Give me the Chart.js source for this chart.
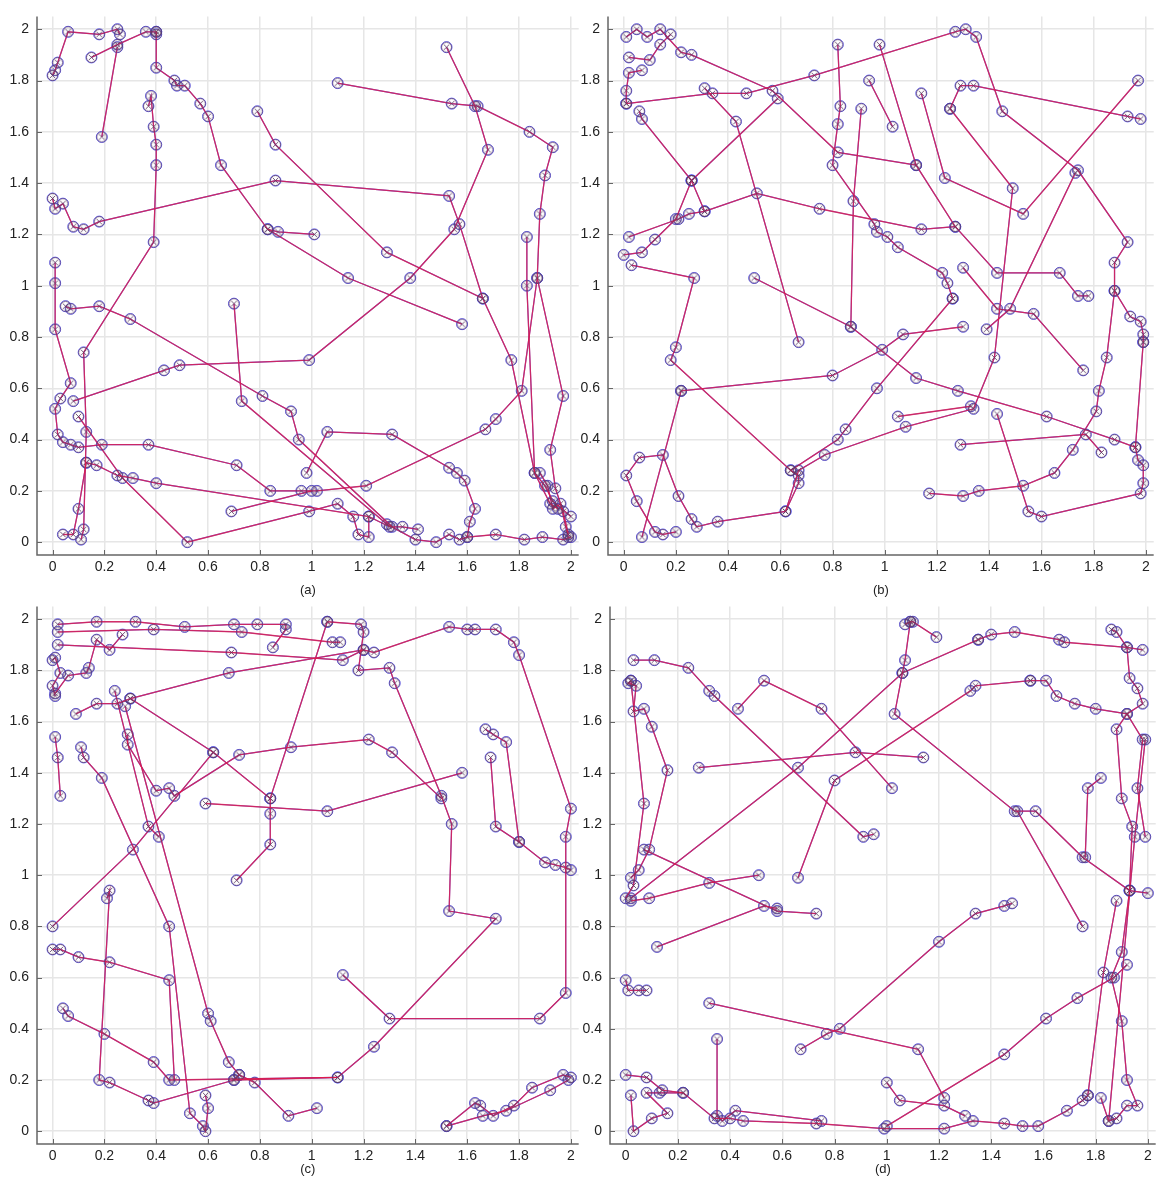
<!DOCTYPE html>
<html>
<head>
<meta charset="utf-8">
<title>Track estimates</title>
<script src="https://cdn.jsdelivr.net/npm/chart.js@4.4.0/dist/chart.umd.min.js"></script>
<style>
  html, body { margin: 0; padding: 0; background: #fff; }
  body { position: relative; width: 1169px; height: 1191px; overflow: hidden; }
  canvas { position: absolute; }
  #panelA { left: 0;     top: 0;   }
  #panelB { left: 571px; top: 0;   }
  #panelC { left: 0;     top: 590px; }
  #panelD { left: 573px; top: 590px; }
</style>
</head>
<body>
<canvas id="panelA" width="586" height="602"></canvas>
<canvas id="panelB" width="590" height="602"></canvas>
<canvas id="panelC" width="586" height="601"></canvas>
<canvas id="panelD" width="590" height="601"></canvas>

<script>
// tracks.js – true paths (blue) and estimated paths (red) on the 2x2 field

const tickValues = [0, 0.2, 0.4, 0.6, 0.8, 1, 1.2, 1.4, 1.6, 1.8, 2];
const panelLabels = ['(a)', '(b)', '(c)', '(d)'];

/* ─────────────────────────────────────────────
   Track data, one list of [x, y] per target
───────────────────────────────────────────── */

const tracksA = [
  [[0.00,1.82],[0.01,1.84],[0.02,1.87],[0.06,1.99],[0.18,1.98],[0.25,2.00],[0.26,1.98]],
  [[0.15,1.89],[0.25,1.94],[0.36,1.99],[0.40,1.99],[0.40,1.98]],
  [[0.19,1.58],[0.25,1.93]],
  [[0.40,1.99],[0.40,1.85],[0.47,1.80],[0.48,1.78],[0.51,1.78],[0.57,1.71],[0.60,1.66],[0.65,1.47],[0.83,1.22],[0.87,1.21],[1.01,1.20]],
  [[0.37,1.70],[0.38,1.74],[0.39,1.62],[0.40,1.55],[0.40,1.47],[0.39,1.17],[0.12,0.74],[0.13,0.43],[0.12,0.05],[0.11,0.01]],
  [[0.00,1.34],[0.01,1.30],[0.04,1.32],[0.08,1.23],[0.12,1.22],[0.18,1.25],[0.86,1.41],[1.53,1.35],[1.57,1.24],[1.66,0.95]],
  [[0.79,1.68],[0.86,1.55],[1.29,1.13],[1.66,0.95],[1.77,0.71],[1.86,0.27],[1.92,0.15],[1.95,0.13]],
  [[0.83,1.22],[1.14,1.03],[1.58,0.85]],
  [[1.52,1.93],[1.63,1.70],[1.68,1.53],[1.55,1.22],[1.38,1.03],[0.99,0.71],[0.49,0.69],[0.43,0.67],[0.08,0.55]],
  [[1.10,1.79],[1.54,1.71],[1.64,1.70],[1.84,1.60],[1.93,1.54],[1.90,1.43],[1.88,1.28],[1.87,1.03],[1.97,0.57],[1.92,0.36],[1.94,0.21],[1.97,0.12],[1.99,0.03]],
  [[1.83,1.19],[1.83,1.00],[1.86,0.27],[1.90,0.22],[1.93,0.16],[2.00,0.10]],
  [[0.01,1.09],[0.01,1.01],[0.01,0.83],[0.07,0.62],[0.03,0.56],[0.01,0.52],[0.02,0.42],[0.04,0.39],[0.07,0.38],[0.10,0.37],[0.19,0.38],[0.37,0.38],[0.71,0.30],[0.84,0.20],[0.96,0.20],[1.02,0.20],[1.21,0.22],[1.67,0.44],[1.71,0.48],[1.81,0.59],[1.87,1.03]],
  [[0.05,0.92],[0.07,0.91],[0.18,0.92],[0.30,0.87],[0.81,0.57],[0.92,0.51],[0.95,0.40],[1.31,0.06],[1.35,0.06],[1.41,0.05]],
  [[0.70,0.93],[0.73,0.55],[1.29,0.07],[1.40,0.01],[1.48,0.00],[1.53,0.03],[1.57,0.01],[1.60,0.02],[1.71,0.03],[1.82,0.01],[1.89,0.02],[1.97,0.01],[2.00,0.02]],
  [[0.13,0.31],[0.17,0.30],[0.25,0.26],[0.31,0.25],[0.40,0.23],[1.22,0.10],[1.30,0.06]],
  [[0.10,0.49],[0.27,0.25],[0.52,0.00],[0.99,0.12],[1.10,0.15],[1.16,0.10],[1.18,0.03],[1.22,0.02],[1.22,0.10]],
  [[0.69,0.12],[1.00,0.20]],
  [[0.98,0.27],[1.06,0.43],[1.31,0.42],[1.53,0.29],[1.56,0.27],[1.59,0.24],[1.63,0.13],[1.61,0.08],[1.60,0.02]],
  [[1.88,0.27],[1.91,0.22],[1.93,0.13],[1.96,0.15],[1.98,0.06],[1.99,0.02]],
  [[0.04,0.03],[0.08,0.03],[0.10,0.13],[0.13,0.31]]
];

const tracksB = [
  [[0.01,1.71],[0.34,1.75],[0.47,1.75],[0.73,1.82],[1.27,1.99],[1.31,2.00],[1.35,1.97],[1.45,1.68],[1.74,1.45],[1.93,1.17],[1.88,1.09],[1.88,0.98],[1.94,0.88],[1.98,0.86],[1.99,0.81],[1.99,0.78]],
  [[1.25,1.69],[1.29,1.78],[1.34,1.78],[1.93,1.66],[1.98,1.65]],
  [[1.25,1.69],[1.49,1.38],[1.42,0.72],[1.34,0.52],[1.08,0.45],[0.77,0.34],[0.67,0.28],[0.62,0.12],[0.36,0.08],[0.28,0.06],[0.26,0.09],[0.21,0.18],[0.15,0.34],[0.06,0.33],[0.01,0.26],[0.05,0.16],[0.12,0.04],[0.15,0.03],[0.20,0.04]],
  [[1.14,1.75],[1.23,1.42],[1.53,1.28],[1.97,1.80]],
  [[0.82,1.94],[0.83,1.70],[0.82,1.63],[0.80,1.47],[0.96,1.24],[0.97,1.21],[1.01,1.19],[1.05,1.15],[1.22,1.05],[1.24,1.01],[1.26,0.95]],
  [[0.91,1.69],[0.88,1.33],[0.87,0.84]],
  [[0.94,1.80],[1.03,1.62]],
  [[0.98,1.94],[1.12,1.47],[1.27,1.23],[1.43,1.05],[1.67,1.05],[1.74,0.96],[1.78,0.96]],
  [[0.02,1.89],[0.10,1.88],[0.14,1.94],[0.18,1.98]],
  [[0.01,1.97],[0.05,2.00],[0.09,1.97],[0.14,2.00],[0.22,1.91],[0.26,1.90],[0.57,1.76],[0.82,1.52],[1.12,1.47]],
  [[0.07,1.84],[0.02,1.83],[0.01,1.76],[0.01,1.71]],
  [[0.06,1.68],[0.07,1.65],[0.26,1.41],[0.31,1.29]],
  [[0.26,1.41],[0.59,1.73]],
  [[0.26,1.41],[0.20,1.26],[0.12,1.18],[0.07,1.13],[0.00,1.12]],
  [[0.02,1.19],[0.21,1.26],[0.25,1.28],[0.31,1.29],[0.51,1.36],[0.75,1.30],[1.14,1.22],[1.27,1.23]],
  [[0.03,1.08],[0.27,1.03],[0.20,0.76],[0.18,0.71],[0.64,0.28],[0.67,0.26],[0.67,0.23],[0.62,0.12]],
  [[0.22,0.59],[0.80,0.65],[0.99,0.75],[1.07,0.81],[1.30,0.84]],
  [[0.07,0.02],[0.22,0.59]],
  [[0.64,0.28],[0.82,0.40],[0.85,0.44],[0.97,0.60],[1.26,0.95]],
  [[1.05,0.49],[1.33,0.53]],
  [[1.29,0.38],[1.77,0.42],[1.83,0.35]],
  [[1.17,0.19],[1.30,0.18],[1.36,0.20],[1.53,0.22],[1.65,0.27],[1.72,0.36],[1.81,0.51],[1.82,0.59],[1.85,0.72],[1.88,0.98]],
  [[1.43,0.50],[1.55,0.12],[1.60,0.10],[1.98,0.19],[1.99,0.23],[1.99,0.30],[1.97,0.32],[1.96,0.37],[1.99,0.78]],
  [[0.50,1.03],[0.87,0.84],[1.12,0.64],[1.28,0.59],[1.62,0.49],[1.88,0.40],[1.96,0.37]],
  [[0.31,1.77],[0.43,1.64],[0.67,0.78]],
  [[1.39,0.83],[1.48,0.91],[1.73,1.44]],
  [[1.30,1.07],[1.43,0.91],[1.57,0.89],[1.76,0.67]]
];

const tracksC = [
  [[0.02,1.98],[0.17,1.99],[0.32,1.99],[0.51,1.97],[0.70,1.98],[0.79,1.98],[0.90,1.98],[0.90,1.96],[0.85,1.89]],
  [[0.02,1.95],[0.39,1.96],[0.73,1.95],[1.08,1.91],[1.11,1.91]],
  [[0.02,1.90],[0.69,1.87],[1.12,1.84],[1.20,1.88],[1.24,1.87],[1.53,1.97],[1.60,1.96],[1.63,1.96],[1.71,1.96],[1.78,1.91],[1.80,1.86],[2.00,1.26],[1.98,1.15],[1.98,0.54],[1.88,0.44],[1.30,0.44],[1.12,0.61]],
  [[1.06,1.99],[1.19,1.98],[1.20,1.95],[1.18,1.80],[1.30,1.81],[1.32,1.75],[1.50,1.31],[1.54,1.20],[1.53,0.86],[1.71,0.83],[1.24,0.33],[1.10,0.21],[0.70,0.20]],
  [[1.06,1.99],[0.84,1.30],[0.84,1.24],[0.84,1.12],[0.71,0.98]],
  [[0.01,1.71],[0.06,1.78],[0.13,1.79],[0.14,1.81],[0.17,1.92],[0.22,1.88],[0.27,1.94]],
  [[0.09,1.63],[0.17,1.67],[0.25,1.67],[0.30,1.69],[0.68,1.79],[1.20,1.88]],
  [[0.30,1.69],[0.62,1.48],[0.84,1.30]],
  [[0.01,1.54],[0.02,1.46],[0.03,1.31]],
  [[0.11,1.50],[0.12,1.46],[0.19,1.38],[0.45,0.80],[0.53,0.07],[0.58,0.02],[0.59,0.00],[0.60,0.09],[0.59,0.14]],
  [[0.29,1.55],[0.29,1.51],[0.40,1.33],[0.45,1.34],[0.47,1.31],[0.72,1.47],[0.92,1.50],[1.22,1.53],[1.31,1.48],[1.50,1.30]],
  [[0.24,1.72],[0.37,1.19],[0.41,1.15]],
  [[0.00,0.80],[0.31,1.10],[0.62,1.48]],
  [[1.58,1.40],[1.06,1.25],[0.59,1.28]],
  [[1.67,1.57],[1.70,1.55],[1.75,1.52],[1.80,1.13],[1.90,1.05],[1.94,1.04],[1.98,1.03],[2.00,1.02]],
  [[1.69,1.46],[1.71,1.19],[1.80,1.13]],
  [[0.00,0.71],[0.03,0.71],[0.10,0.68],[0.22,0.66],[0.45,0.59],[0.47,0.20]],
  [[0.21,0.91],[0.22,0.94],[0.18,0.20],[0.22,0.19],[0.37,0.12],[0.39,0.11],[0.70,0.20],[0.72,0.22]],
  [[0.04,0.48],[0.06,0.45],[0.20,0.38],[0.39,0.27],[0.45,0.20],[1.10,0.21]],
  [[0.28,1.66],[0.60,0.46],[0.61,0.43],[0.68,0.27],[0.72,0.22],[0.78,0.19],[0.91,0.06],[1.02,0.09]],
  [[1.52,0.02],[1.63,0.11],[1.65,0.10],[1.70,0.06],[1.78,0.10],[1.85,0.17],[1.97,0.22],[2.00,0.21]],
  [[1.52,0.02],[1.66,0.06],[1.75,0.08],[1.92,0.16],[1.99,0.20]],
  [[0.00,1.84],[0.01,1.85],[0.03,1.79],[0.00,1.74],[0.01,1.70]]
];

const tracksD = [
  [[1.07,1.98],[1.09,1.99],[1.10,1.99],[1.19,1.93]],
  [[1.09,1.99],[1.07,1.84],[1.06,1.79],[1.03,1.63],[1.49,1.25],[1.57,1.25],[1.75,1.07],[1.93,0.94],[2.00,0.93]],
  [[0.28,1.42],[0.88,1.48],[1.14,1.46]],
  [[1.35,1.92],[1.40,1.94],[1.49,1.95],[1.66,1.92],[1.68,1.91],[1.92,1.89],[1.98,1.88]],
  [[1.86,1.96],[1.88,1.95],[1.92,1.89],[1.93,1.77],[1.96,1.73],[1.98,1.67],[1.92,1.63],[1.88,1.57],[1.90,1.30],[1.94,1.19],[1.93,0.94]],
  [[1.55,1.76],[1.61,1.76],[1.65,1.70],[1.72,1.67],[1.80,1.65],[1.92,1.63],[1.98,1.53],[1.96,1.34],[1.99,1.15]],
  [[0.66,0.99],[0.80,1.37],[1.32,1.72],[1.34,1.74],[1.55,1.76]],
  [[0.03,1.84],[0.11,1.84],[0.24,1.81],[0.32,1.72],[0.34,1.70],[0.91,1.15],[0.95,1.16]],
  [[0.43,1.65],[0.53,1.76],[0.75,1.65],[1.02,1.34]],
  [[0.02,1.76],[0.01,1.75],[0.04,1.74],[0.03,1.64],[0.07,1.65],[0.10,1.58],[0.16,1.41],[0.09,1.10],[0.05,1.02],[0.02,0.99]],
  [[0.02,1.76],[0.07,1.28],[0.03,0.96],[0.00,0.91]],
  [[0.12,0.72],[0.53,0.88],[0.58,0.87]],
  [[0.07,1.10],[0.58,0.86],[0.73,0.85]],
  [[0.02,0.90],[0.09,0.91],[0.32,0.97],[0.51,1.00]],
  [[0.02,0.91],[0.66,1.42],[1.06,1.79],[1.35,1.92]],
  [[0.00,0.59],[0.01,0.55],[0.05,0.55],[0.08,0.55]],
  [[0.32,0.50],[1.12,0.32],[1.22,0.13]],
  [[0.67,0.32],[0.77,0.38],[0.82,0.40],[1.20,0.74],[1.34,0.85],[1.45,0.88],[1.48,0.89]],
  [[1.00,0.02],[1.45,0.30],[1.61,0.44],[1.73,0.52],[1.87,0.60],[1.92,0.65]],
  [[0.00,0.22],[0.08,0.21],[0.14,0.16],[0.22,0.15],[0.34,0.05],[0.40,0.05],[0.45,0.04],[0.73,0.03],[0.99,0.01],[1.22,0.01],[1.33,0.04],[1.45,0.03],[1.52,0.02],[1.58,0.02],[1.69,0.08],[1.75,0.12],[1.77,0.14]],
  [[0.35,0.36],[0.35,0.06],[0.37,0.04],[0.42,0.08],[0.75,0.04]],
  [[0.02,0.14],[0.03,0.00],[0.10,0.05],[0.16,0.07],[0.08,0.15],[0.13,0.15],[0.22,0.15]],
  [[1.00,0.19],[1.05,0.12],[1.22,0.10],[1.30,0.06]],
  [[1.82,0.13],[1.85,0.04],[1.88,0.05],[1.92,0.10],[1.96,0.10],[1.92,0.20],[1.90,0.43],[1.86,0.60],[1.90,0.70],[1.93,0.94]],
  [[1.77,0.14],[1.83,0.62],[1.88,0.90]],
  [[1.85,0.04],[1.95,1.15],[1.99,1.53]],
  [[1.50,1.25],[1.75,0.80]],
  [[1.82,1.38],[1.77,1.34],[1.76,1.07]]
];

/* ─────────────────────────────────────────────
   Marker + axis helpers
───────────────────────────────────────────── */

// circle with a diagonal cross, used for the estimated positions
function makeEstimateMarker() {
  const c = document.createElement('canvas');
  c.width = 13;
  c.height = 13;
  const g = c.getContext('2d');
  g.strokeStyle = 'rgba(90,60,95,0.85)';
  g.lineWidth = 1;
  g.beginPath();
  g.arc(6.5, 6.5, 5, 0, Math.PI * 2);
  g.stroke();
  g.beginPath();
  g.moveTo(3.8, 3.8); g.lineTo(9.2, 9.2);
  g.moveTo(9.2, 3.8); g.lineTo(3.8, 9.2);
  g.stroke();
  return c;
}

// left and bottom axis lines with inward tick marks
const axisFrame = {
  id: 'axisFrame',
  afterDraw(chart) {
    const { ctx, chartArea: a, scales: { x, y } } = chart;
    ctx.save();
    ctx.strokeStyle = '#666';
    ctx.lineWidth = 1.5;
    ctx.beginPath();
    ctx.moveTo(a.left, a.top);
    ctx.lineTo(a.left, a.bottom);
    ctx.lineTo(a.right, a.bottom);
    ctx.stroke();

    ctx.lineWidth = 1;
    ctx.beginPath();
    tickValues.forEach(v => {
      const px = Math.round(x.getPixelForValue(v)) + 0.5;
      const py = Math.round(y.getPixelForValue(v)) + 0.5;
      ctx.moveTo(px, a.bottom);
      ctx.lineTo(px, a.bottom - 5);
      ctx.moveTo(a.left, py);
      ctx.lineTo(a.left + 5, py);
    });
    ctx.stroke();
    ctx.restore();
  }
};

/* ─────────────────────────────────────────────
   Panel builder
───────────────────────────────────────────── */

function renderPanel(canvasId, tracks, label, titlePad, marker) {
  const ctx = document.getElementById(canvasId);
  if (!ctx) return;

  const datasets = [];
  tracks.forEach(track => {
    const pts = track.map(p => ({ x: p[0], y: p[1] }));

    // estimate, drawn on top
    datasets.push({
      data: pts,
      order: 0,
      showLine: true,
      borderColor: 'rgba(235,25,65,0.78)',
      borderWidth: 1.3,
      pointStyle: marker,
      pointRadius: 6,
      pointHoverRadius: 6
    });

    // true path
    datasets.push({
      data: pts,
      order: 1,
      showLine: true,
      borderColor: 'rgba(45,40,230,0.8)',
      borderWidth: 1.2,
      pointStyle: 'circle',
      pointRadius: 5.5,
      pointBorderWidth: 1,
      pointBorderColor: 'rgba(70,70,255,0.85)',
      pointBackgroundColor: 'rgba(255,255,255,0)'
    });
  });

  const tickFont = { family: '"Liberation Sans", Arial, sans-serif', size: 14 };
  const setTicks = scale => { scale.ticks = tickValues.map(v => ({ value: v })); };
  const fmt = v => String(+v.toFixed(1));

  new Chart(ctx, {
    type: 'scatter',
    data: { datasets },
    plugins: [axisFrame],
    options: {
      responsive: false,
      animation: false,
      events: [],
      layout: { padding: { top: 5, right: 4, left: 0, bottom: 0 } },
      plugins: { legend: { display: false }, tooltip: { enabled: false } },
      scales: {
        x: {
          type: 'linear',
          min: -0.06,
          max: 2.03,
          afterBuildTicks: setTicks,
          afterFit: s => { s.height = 47; },
          grid: { color: '#e6e6e6', lineWidth: 1.5, drawTicks: false },
          border: { display: false },
          ticks: { font: tickFont, color: '#222', padding: 4, callback: fmt, maxRotation: 0, autoSkip: false },
          title: {
            display: true,
            text: label,
            color: '#222',
            font: { family: '"Liberation Sans", Arial, sans-serif', size: 13 },
            padding: { top: 0, bottom: titlePad }
          }
        },
        y: {
          type: 'linear',
          min: -0.05,
          max: 2.05,
          afterBuildTicks: setTicks,
          afterFit: s => { s.width = 37; },
          grid: { color: '#e6e6e6', lineWidth: 1.5, drawTicks: false },
          border: { display: false },
          ticks: { font: tickFont, color: '#222', padding: 8, callback: fmt, autoSkip: false }
        }
      }
    }
  });
}

document.addEventListener('DOMContentLoaded', () => {
  const marker = makeEstimateMarker();
  renderPanel('panelA', tracksA, panelLabels[0], 4, marker);
  renderPanel('panelB', tracksB, panelLabels[1], 4, marker);
  renderPanel('panelC', tracksC, panelLabels[2], 14, marker);
  renderPanel('panelD', tracksD, panelLabels[3], 14, marker);
});
</script>
</body>
</html>
